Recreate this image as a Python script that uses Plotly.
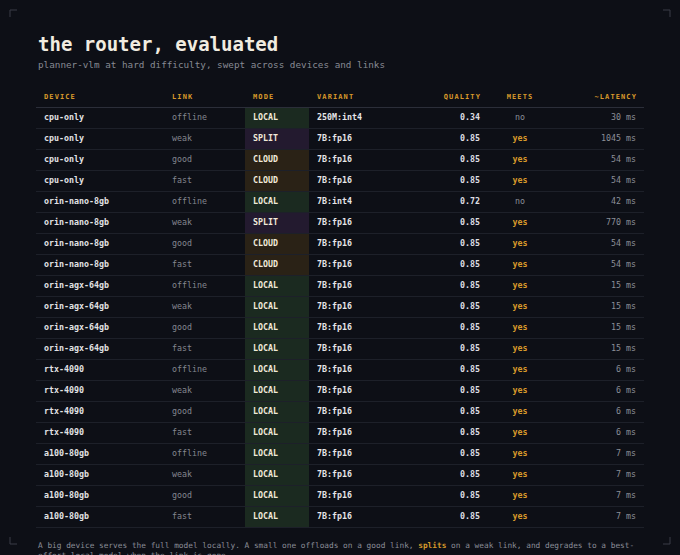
import plotly.graph_objects as go

devices = ["cpu-only"] * 4 + ["orin-nano-8gb"] * 4 + ["orin-agx-64gb"] * 4 + ["rtx-4090"] * 4 + ["a100-80gb"] * 4
links = ["offline", "weak", "good", "fast"] * 5
modes = ["LOCAL", "SPLIT", "CLOUD", "CLOUD",
         "LOCAL", "SPLIT", "CLOUD", "CLOUD",
         "LOCAL", "LOCAL", "LOCAL", "LOCAL",
         "LOCAL", "LOCAL", "LOCAL", "LOCAL",
         "LOCAL", "LOCAL", "LOCAL", "LOCAL"]
variants = ["250M:int4", "7B:fp16", "7B:fp16", "7B:fp16",
            "7B:int4", "7B:fp16", "7B:fp16", "7B:fp16"] + ["7B:fp16"] * 12
quality = [0.34, 0.85, 0.85, 0.85, 0.72, 0.85, 0.85, 0.85] + [0.85] * 12
meets = ["no", "yes", "yes", "yes", "no", "yes", "yes", "yes"] + ["yes"] * 12
latency_ms = [30, 1045, 54, 54, 42, 770, 54, 54,
              15, 15, 15, 15, 6, 6, 6, 6, 7, 7, 7, 7]
headers = ["DEVICE", "LINK", "MODE", "VARIANT", "QUALITY", "MEETS", "~LATENCY"]

BG = "#0d0f16"
ORANGE = "#d99a2b"
FONT = "DejaVu Sans Mono"
mode_fill = {"LOCAL": "#1b2a20", "SPLIT": "#231a2f", "CLOUD": "#2a2216"}

n = len(devices)
rows = list(range(n))

fig = go.Figure()

# mode cell backgrounds
fig.add_trace(go.Bar(
    orientation="h", y=rows, x=[64] * n, base=245, width=1.0,
    marker=dict(color=[mode_fill[m] for m in modes], line=dict(width=0)),
    hoverinfo="skip", showlegend=False,
))

def text_col(xpos, texts, colors, pos, size=8.3):
    fig.add_trace(go.Scatter(
        x=[xpos] * len(texts), y=rows, mode="text", text=texts,
        textposition=pos, textfont=dict(family=FONT, size=size, color=colors),
        hoverinfo="skip", showlegend=False, cliponaxis=False,
    ))

text_col(44, [f"<b>{d}</b>" for d in devices], "#e2e2e4", "middle right")
text_col(172, links, "#83868f", "middle right")
text_col(253, [f"<b>{m}</b>" for m in modes], "#f1ead9", "middle right")
text_col(317, [f"<b>{v}</b>" for v in variants], "#e6e6e8", "middle right")
text_col(480, [f"<b>{q:.2f}</b>" for q in quality], "#dedee2", "middle left")
text_col(520, [f"<b>{m}</b>" if m == "yes" else m for m in meets],
         [ORANGE if m == "yes" else "#8a8d96" for m in meets], "middle center")
text_col(636, [f"{v} ms" for v in latency_ms], "#8b8e97", "middle left")

# headers
hx = [44, 172, 253, 317, 481, 520, 637]
hpos = ["middle right"] * 4 + ["middle left", "middle center", "middle left"]
for x, h, p in zip(hx, headers, hpos):
    fig.add_trace(go.Scatter(
        x=[x], y=[-1], mode="text",
        text=[f"<span style='letter-spacing:1.1px'><b>{h}</b></span>"], textposition=p,
        textfont=dict(family=FONT, size=7, color=ORANGE),
        hoverinfo="skip", showlegend=False, cliponaxis=False,
    ))

shapes = []
# header line
shapes.append(dict(type="line", xref="x", yref="y", x0=36, x1=644, y0=-0.5, y1=-0.5,
                   line=dict(color="#2b2e39", width=1)))
for i in rows:
    shapes.append(dict(type="line", xref="x", yref="y", x0=36, x1=644, y0=i + 0.5, y1=i + 0.5,
                       line=dict(color="#1d2029", width=1)))
# corner marks
cc = "#3a3d47"
for (x0, y0, x1, y1) in [
    (10, 10, 17, 10), (10, 10, 10, 17),
    (663, 10, 670, 10), (670, 10, 670, 17),
    (10, 544, 17, 544), (10, 537, 10, 544),
    (663, 544, 670, 544), (670, 537, 670, 544),
]:
    shapes.append(dict(type="line", xref="x", yref="paper", x0=x0, x1=x1,
                       y0=1 - y0 / 555, y1=1 - y1 / 555, line=dict(color=cc, width=1)))

annotations = [
    dict(text="<b>the router, evaluated</b>", x=36 / 680, y=1 - 44 / 555, xref="paper", yref="paper",
         xanchor="left", yanchor="middle", showarrow=False,
         font=dict(family=FONT, size=19, color="#f1ece0")),
    dict(text="planner-vlm at hard difficulty, swept across devices and links",
         x=36 / 680, y=1 - 64 / 555, xref="paper", yref="paper",
         xanchor="left", yanchor="middle", showarrow=False,
         font=dict(family=FONT, size=9.3, color="#878a93")),
    dict(text=("A big device serves the full model locally. A small one offloads on a good link, "
               f"<span style='color:{ORANGE}'><b>splits</b></span> on a weak link, and degrades to a best-"
               "<br>effort local model when the link is gone."),
         x=36 / 680, y=1 - 539 / 555, xref="paper", yref="paper",
         xanchor="left", yanchor="top", align="left", showarrow=False,
         font=dict(family=FONT, size=7.8, color="#8a8d96")),
]

row0 = 118
fig.update_layout(
    width=680, height=555,
    margin=dict(l=0, r=0, t=0, b=0),
    paper_bgcolor=BG, plot_bgcolor=BG,
    xaxis=dict(range=[0, 680], visible=False, fixedrange=True),
    yaxis=dict(range=[(555 - row0) / 21, -row0 / 21], visible=False, fixedrange=True),
    shapes=shapes, annotations=annotations,
    bargap=0, showlegend=False,
)

fig.write_html("out.html", config={"displayModeBar": False},
               post_script="document.body.style.margin='0';document.body.style.background='" + BG + "';")
